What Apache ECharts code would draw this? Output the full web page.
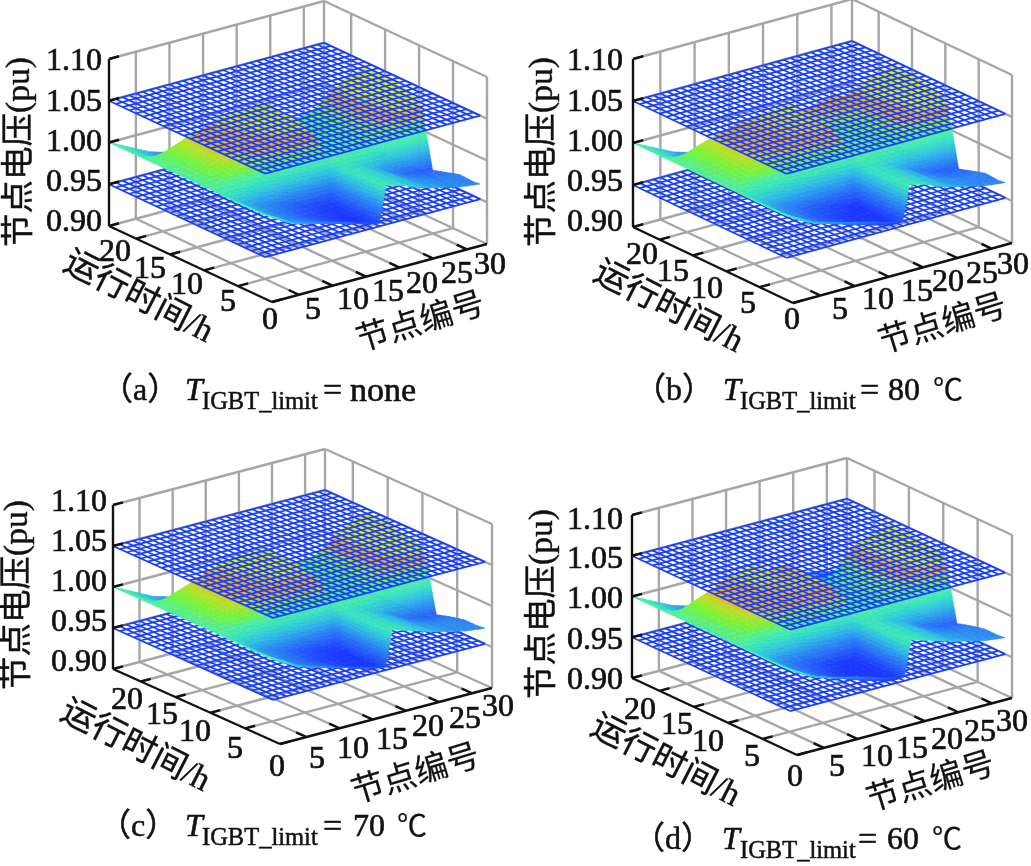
<!DOCTYPE html>
<html><head><meta charset="utf-8">
<script src="https://cdn.jsdelivr.net/npm/echarts@6/dist/echarts.min.js"></script>
<style>html,body{margin:0;padding:0;background:#fff}#c{width:1031px;height:866px}</style></head>
<body><div id="c"></div>
<script>
const nodes=[1,2,3,5,7,9,11,13,15,17,18,19,21,22,23,25,26,28,30,33];
const hours=[1,2,4,6,8,9,10,12,14,16,18,19,20,22,24];
const voltageTicks=[0.90,0.95,1.00,1.05,1.10];
const nodeTicks=[5,10,15,20,25,30];
const hourTicks=[0,5,10,15,20];
const limitLevels=[0.95,1.05];
const meshNodes=[1,2,3,4,5,6,7,8,9,10,11,12,13,14,15,16,17,18,19,20,21,22,23,24,25,26,27,28,29,30,31,32,33];
const meshHours=[1,2,3,4,5,6,7,8,9,10,11,12,13,14,15,16,17,18,19,20,21,22,23,24];

const voltageA=[
[1.000,.996,.992,.982,.977,.973,.969,.965,.960,.956,.954,.997,.992,.990,.986,.981,.979,.975,.971,.968],
[1.000,.995,.990,.980,.974,.970,.965,.961,.956,.952,.950,.996,.991,.989,.985,.980,.977,.973,.970,.967],
[1.000,.994,.988,.978,.971,.966,.961,.956,.951,.947,.946,.994,.990,.988,.985,.979,.975,.972,.969,.968],
[1.000,.994,.988,.978,.971,.966,.960,.955,.951,.948,.947,.993,.990,.988,.984,.978,.973,.968,.965,.963],
[1.000,.995,.989,.980,.973,.968,.963,.958,.954,.951,.950,.993,.990,.988,.984,.977,.972,.965,.961,.958],
[1.000,1.000,1.000,.996,.994,.992,.990,.988,.986,.985,.985,1.000,.999,.998,.997,.994,.992,.995,.998,1.002],
[1.000,1.002,1.004,1.008,1.010,1.012,1.014,1.016,1.017,1.018,1.018,1.001,1.002,1.002,1.003,1.005,1.010,1.018,1.027,1.034],
[1.000,1.003,1.006,1.013,1.018,1.021,1.024,1.026,1.027,1.028,1.028,1.002,1.002,1.003,1.003,1.006,1.012,1.022,1.030,1.040],
[1.000,1.003,1.006,1.014,1.019,1.022,1.025,1.028,1.030,1.031,1.031,1.002,1.003,1.003,1.004,1.007,1.013,1.024,1.033,1.043],
[1.000,1.003,1.006,1.013,1.019,1.023,1.026,1.029,1.031,1.033,1.033,1.002,1.003,1.003,1.004,1.007,1.013,1.025,1.035,1.044],
[1.000,1.003,1.006,1.012,1.018,1.022,1.030,1.031,1.032,1.033,1.034,1.002,1.003,1.003,1.004,1.007,1.012,1.025,1.035,1.043],
[1.000,.999,.998,.997,.993,.990,.990,.988,.986,.985,.985,.995,.994,.993,.993,.992,.990,.990,.990,.990],
[1.000,.996,.992,.985,.977,.972,.969,.966,.963,.961,.960,.992,.989,.987,.984,.980,.976,.972,.968,.965],
[1.000,.996,.991,.982,.974,.969,.966,.963,.960,.958,.957,.991,.988,.986,.983,.978,.974,.970,.966,.963],
[1.000,.996,.992,.984,.976,.971,.967,.964,.961,.959,.958,.992,.989,.987,.984,.979,.975,.971,.967,.964]];

const voltageB=[
[1.000,.996,.992,.983,.978,.974,.970,.966,.961,.957,.955,.997,.993,.990,.986,.981,.979,.975,.971,.968],
[1.000,.995,.990,.980,.974,.969,.964,.959,.954,.950,.949,.996,.991,.989,.985,.980,.977,.973,.970,.967],
[1.000,.994,.988,.977,.970,.964,.958,.953,.948,.945,.944,.994,.990,.988,.985,.979,.975,.972,.969,.968],
[1.000,.994,.988,.977,.969,.963,.957,.952,.948,.945,.945,.993,.990,.988,.984,.978,.973,.968,.965,.963],
[1.000,.995,.989,.979,.972,.966,.961,.956,.952,.949,.948,.993,.990,.988,.984,.977,.972,.965,.961,.958],
[1.000,1.000,.999,.995,.993,.990,.988,.986,.984,.983,.983,1.000,.999,.998,.997,.994,.992,.995,.998,1.002],
[1.000,1.002,1.004,1.008,1.010,1.011,1.013,1.014,1.015,1.016,1.016,1.002,1.003,1.003,1.004,1.006,1.011,1.019,1.028,1.035],
[1.000,1.003,1.006,1.013,1.017,1.020,1.022,1.024,1.025,1.026,1.026,1.004,1.005,1.005,1.006,1.009,1.014,1.023,1.031,1.040],
[1.000,1.003,1.006,1.014,1.019,1.021,1.023,1.026,1.027,1.028,1.028,1.006,1.007,1.007,1.008,1.011,1.015,1.025,1.033,1.042],
[1.000,1.003,1.006,1.013,1.018,1.021,1.024,1.026,1.028,1.028,1.029,1.014,1.016,1.017,1.018,1.020,1.019,1.027,1.035,1.043],
[1.000,1.003,1.006,1.012,1.017,1.020,1.027,1.028,1.029,1.030,1.030,1.018,1.021,1.023,1.024,1.026,1.022,1.028,1.036,1.043],
[1.000,.999,.998,.997,.993,.990,.989,.987,.985,.984,.984,.996,.995,.994,.994,.993,.991,.991,.991,.991],
[1.000,.996,.992,.985,.977,.972,.969,.966,.963,.961,.960,.992,.989,.987,.984,.980,.976,.972,.968,.965],
[1.000,.996,.991,.982,.974,.969,.966,.963,.960,.958,.957,.991,.988,.986,.983,.978,.974,.970,.966,.963],
[1.000,.996,.992,.984,.976,.971,.967,.964,.961,.959,.958,.992,.989,.987,.984,.979,.975,.971,.967,.964]];

const voltageC=[
[1.000,.996,.992,.982,.977,.973,.968,.964,.960,.956,.954,.997,.992,.990,.987,.982,.980,.976,.972,.969],
[1.000,.995,.990,.980,.974,.969,.964,.960,.955,.951,.950,.996,.991,.989,.986,.981,.978,.974,.971,.968],
[1.000,.994,.988,.977,.970,.965,.960,.955,.950,.946,.945,.994,.990,.988,.985,.980,.976,.973,.970,.968],
[1.000,.994,.988,.977,.970,.965,.959,.954,.950,.947,.946,.993,.990,.988,.984,.979,.974,.969,.966,.964],
[1.000,.995,.989,.979,.972,.967,.962,.957,.953,.950,.949,.993,.990,.988,.984,.978,.973,.966,.962,.959],
[1.000,1.000,.999,.996,.994,.991,.989,.987,.985,.984,.984,1.000,.999,.998,.997,.994,.992,.995,.998,1.002],
[1.000,1.002,1.004,1.008,1.010,1.012,1.014,1.015,1.016,1.017,1.017,1.002,1.003,1.003,1.004,1.006,1.011,1.019,1.027,1.034],
[1.000,1.003,1.006,1.013,1.018,1.021,1.024,1.026,1.027,1.027,1.027,1.003,1.003,1.004,1.004,1.007,1.012,1.022,1.030,1.039],
[1.000,1.003,1.006,1.014,1.019,1.022,1.025,1.028,1.030,1.030,1.030,1.003,1.004,1.004,1.005,1.008,1.013,1.024,1.033,1.042],
[1.000,1.003,1.006,1.013,1.019,1.023,1.027,1.030,1.032,1.032,1.032,1.004,1.005,1.005,1.006,1.009,1.014,1.025,1.035,1.044],
[1.000,1.003,1.006,1.012,1.018,1.024,1.030,1.032,1.033,1.033,1.033,1.004,1.005,1.005,1.006,1.009,1.013,1.026,1.036,1.044],
[1.000,.999,.998,.997,.993,.990,.990,.988,.986,.985,.985,.995,.994,.993,.993,.992,.990,.990,.990,.990],
[1.000,.996,.992,.985,.977,.972,.969,.966,.963,.961,.960,.992,.989,.987,.984,.980,.976,.972,.968,.965],
[1.000,.996,.991,.982,.974,.969,.966,.963,.960,.958,.957,.991,.988,.986,.983,.978,.974,.970,.966,.963],
[1.000,.996,.992,.984,.976,.971,.967,.964,.961,.959,.958,.992,.989,.987,.984,.979,.975,.971,.967,.964]];

const voltageD=[
[1.000,.996,.992,.983,.978,.974,.970,.965,.960,.956,.955,.998,.993,.991,.988,.983,.981,.977,.973,.970],
[1.000,.995,.990,.980,.974,.969,.964,.958,.953,.949,.948,.997,.992,.990,.987,.982,.979,.975,.972,.969],
[1.000,.994,.988,.977,.969,.963,.957,.951,.946,.943,.942,.995,.991,.989,.986,.981,.977,.974,.971,.969],
[1.000,.994,.988,.977,.968,.962,.956,.950,.946,.942,.941,.994,.991,.989,.985,.980,.975,.970,.967,.965],
[1.000,.995,.989,.979,.971,.965,.960,.954,.950,.946,.945,.994,.991,.989,.985,.979,.974,.967,.963,.960],
[1.000,1.000,.999,.996,.993,.990,.988,.985,.983,.981,.981,1.001,1.000,.999,.998,.995,.993,.996,.999,1.003],
[1.000,1.002,1.004,1.009,1.012,1.014,1.016,1.017,1.018,1.018,1.018,1.002,1.003,1.003,1.004,1.006,1.011,1.020,1.028,1.035],
[1.000,1.003,1.006,1.014,1.019,1.022,1.024,1.025,1.026,1.026,1.026,1.003,1.004,1.004,1.005,1.008,1.013,1.023,1.031,1.040],
[1.000,1.003,1.007,1.015,1.021,1.023,1.025,1.026,1.027,1.027,1.027,1.003,1.004,1.005,1.006,1.009,1.014,1.025,1.033,1.041],
[1.000,1.003,1.007,1.015,1.021,1.024,1.027,1.030,1.026,1.026,1.026,1.000,1.001,1.002,1.002,1.005,1.013,1.026,1.033,1.042],
[1.000,1.003,1.007,1.014,1.020,1.028,1.033,1.034,1.026,1.025,1.025,.992,.993,.994,.995,.999,1.012,1.026,1.034,1.042],
[1.000,.999,.998,.997,.993,.990,.990,.988,.986,.985,.985,.988,.987,.987,.987,.987,.987,.990,.991,.991],
[1.000,.996,.992,.985,.977,.972,.969,.966,.963,.961,.960,.985,.982,.981,.980,.977,.974,.971,.968,.965],
[1.000,.996,.991,.982,.974,.969,.966,.963,.960,.958,.957,.988,.985,.984,.982,.978,.974,.970,.966,.963],
[1.000,.996,.992,.984,.976,.971,.967,.964,.961,.959,.958,.990,.988,.986,.984,.979,.975,.971,.967,.964]];

const colorStops=[[.948,[28,56,255]],[.96,[40,96,248]],[.972,[44,144,242]],[.982,[48,192,228]],[.992,[58,228,192]],[1.000,[80,240,160]],[1.008,[120,245,60]],[1.015,[190,225,40]],[1.019,[245,170,40]],[1.024,[245,172,36]],[1.029,[228,236,24]]];

const panels=[
{key:'a',box:[0,0,516,433],F:[272,302],nv:[215,-58],hv:[-163,-76],vs:167,grid:voltageA,
 vl:[102,[220,180,140,100,59]],hl:[[270,318],[228,300],[187,283],[150,267],[115,250]],nl:[[313,308],[353,298],[388,290],[422,282],[457,272],[490,263]],
 yn:[20,150],hn:[138,298],nn:[420,320],cap:{y:389,paren:[103,'（a）'],T:185,sub:202,eq:323,val:[350,'none'],unit:null}},
{key:'b',box:[516,0,515,433],F:[793,303],nv:[219,-60],hv:[-160,-76],vs:168,grid:voltageB,
 vl:[623,[220,180,140,100,59]],hl:[[792,318],[748,302],[707,287],[673,270],[642,253]],nl:[[840,308],[878,298],[917,290],[948,280],[982,272],[1013,263]],
 yn:[543,150],hn:[668,308],nn:[942,322],cap:{y:389,paren:[636,'（b）'],T:723,sub:740,eq:860,val:[888,'80'],unit:933}},
{key:'c',box:[0,433,516,433],F:[280,744],nv:[212,-56],hv:[-167,-75],vs:164,grid:voltageC,
 vl:[107,[660,620,580,540,500]],hl:[[277,765],[235,747],[195,730],[162,713],[127,698]],nl:[[317,757],[353,747],[392,738],[428,725],[465,717],[498,705]],
 yn:[18,593],hn:[135,747],nn:[415,772],cap:{y:825,paren:[101,'（c）'],T:185,sub:202,eq:323,val:[353,'70'],unit:397}},
{key:'d',box:[516,433,515,433],F:[797,755],nv:[215,-57],hv:[-165,-77],vs:163,grid:voltageD,
 vl:[623,[678,638,597,557,518]],hl:[[795,775],[752,755],[708,740],[677,723],[640,708]],nl:[[837,765],[877,755],[912,747],[947,738],[980,730],[1012,720]],
 yn:[543,602],hn:[665,762],nn:[930,780],cap:{y:838,paren:[635,'（d）'],T:722,sub:740,eq:858,val:[887,'60'],unit:932}}
];

const nMin=1,nMax=33,hMin=0,hMax=24,vMin=.9,vMax=1.1;
const GRAY='#a6a6a6',MESH='#1a40f8',SERIF='"Liberation Serif","Noto Sans CJK SC",serif',CJK='"Noto Sans CJK SC",sans-serif';
function proj(P,n,h,v){
  const t=(n-nMin)/(nMax-nMin),u=(h-hMin)/(hMax-hMin);
  return [P.F[0]+t*P.nv[0]+u*P.hv[0], P.F[1]+t*P.nv[1]+u*P.hv[1]-(v-vMin)/(vMax-vMin)*P.vs];
}
function colorOf(v){
  const s=colorStops;
  if(v<=s[0][0])return `rgb(${s[0][1]})`;
  for(let i=1;i<s.length;i++){ if(v<=s[i][0]){
    const f=(v-s[i-1][0])/(s[i][0]-s[i-1][0]),a=s[i-1][1],b=s[i][1];
    return `rgb(${a.map((c,k)=>Math.round(c+(b[k]-c)*f))})`; } }
  return `rgb(${s[s.length-1][1]})`;
}
function segSeries(P,idx,segs,color,width,z){
  return {type:'custom',coordinateSystem:'cartesian2d',xAxisIndex:idx,yAxisIndex:idx,silent:true,animation:false,clip:false,z,progressive:0,
    data:segs.map((s,i)=>[i]),
    renderItem(params,api){
      const s=segs[params.dataIndex];
      const a=api.coord(proj(P,s[0],s[1],s[2])),b=api.coord(proj(P,s[3],s[4],s[5]));
      return {type:'line',shape:{x1:a[0],y1:a[1],x2:b[0],y2:b[1]},style:{stroke:color,lineWidth:width}};
    }};
}
function surfaceSeries(P,idx){
  const cells=[];
  for(let r=hours.length-2;r>=0;r--)for(let c=nodes.length-2;c>=0;c--)cells.push([r,c]);
  const g=P.grid,STEP=.004;
  return {type:'custom',coordinateSystem:'cartesian2d',xAxisIndex:idx,yAxisIndex:idx,silent:true,animation:false,clip:false,z:4,progressive:0,
    data:cells.map(c=>[c[0],c[1]]),
    renderItem(params,api){
      const [r,c]=cells[params.dataIndex];
      const v00=g[r][c],v01=g[r][c+1],v10=g[r+1][c],v11=g[r+1][c+1];
      const subH=Math.min(12,Math.max(3,Math.ceil(Math.max(Math.abs(v10-v00),Math.abs(v11-v01))/STEP)));
      const subN=Math.min(12,Math.max(3,Math.ceil(Math.max(Math.abs(v01-v00),Math.abs(v11-v10))/STEP)));
      const children=[];
      for(let i=subH-1;i>=0;i--)for(let j=subN-1;j>=0;j--){
        const pt=(a,b)=>{
          const aa=a/subH,bb=b/subN;
          const v=v00*(1-aa)*(1-bb)+v01*(1-aa)*bb+v10*aa*(1-bb)+v11*aa*bb;
          const h=hours[r]+(hours[r+1]-hours[r])*aa,n=nodes[c]+(nodes[c+1]-nodes[c])*bb;
          return {p:api.coord(proj(P,n,h,v)),v};
        };
        const q=[pt(i,j),pt(i,j+1),pt(i+1,j+1),pt(i+1,j)];
        const fill=colorOf((q[0].v+q[1].v+q[2].v+q[3].v)/4);
        children.push({type:'polygon',shape:{points:q.map(o=>o.p)},style:{fill,stroke:fill,lineWidth:.5}});
      }
      return {type:'group',children};
    }};
}
function textSeries(P,idx){
  const items=[];
  const add=(t,x,y,font,align,rot,sw)=>items.push({t,x,y,font,align:align||'center',rot:rot||0,sw:sw||0});
  const num='32px '+SERIF;
  voltageTicks.forEach((v,i)=>add(v.toFixed(2),P.vl[0],P.vl[1][i]+2.5,num,'right',0,.7));
  hourTicks.forEach((v,i)=>add(String(v),P.hl[i][0],P.hl[i][1]+2.5,num,'center',0,.7));
  nodeTicks.forEach((v,i)=>add(String(v),P.nl[i][0],P.nl[i][1]+2.5,num,'center',0,.7));
  add('节点电压(pu)',P.yn[0],P.yn[1]+2,'33.5px '+SERIF,'center',Math.PI/2,.4);
  add('运行时间/h',P.hn[0],P.hn[1],'34px '+SERIF,'center',-27*Math.PI/180,.4);
  add('节点编号',P.nn[0],P.nn[1],'33px '+CJK,'center',17*Math.PI/180,.2);
  const c=P.cap,cy=c.y+3;
  add(c.paren[1],c.paren[0]-2,cy,'32px '+SERIF,'left',0,.5);
  add('T',c.T,cy,'italic 32px '+SERIF,'left',0,.6);
  add('IGBT_limit',c.sub,cy+11,'24.5px '+SERIF,'left',0,.5);
  add('=',c.eq,cy,'34px '+SERIF,'left',0,.5);
  add(c.val[1],c.val[0],cy,(c.val[1]==='none'?'34px ':'32px ')+SERIF,'left',0,.6);
  if(c.unit)add('℃',c.unit,cy,'30px '+SERIF,'left',0,.2);
  return {type:'custom',coordinateSystem:'cartesian2d',xAxisIndex:idx,yAxisIndex:idx,silent:true,animation:false,clip:false,z:8,progressive:0,
    data:items.map((s,i)=>[i]),
    renderItem(params,api){
      const s=items[params.dataIndex],p=api.coord([s.x,s.y]);
      return {type:'text',x:p[0],y:p[1],rotation:s.rot,style:{text:s.t,font:s.font,fill:'#111',stroke:s.sw?'#111':'none',lineWidth:s.sw,align:s.align,verticalAlign:'middle'}};
    }};
}
const grids=[],xAxes=[],yAxes=[],series=[];
panels.forEach((P,idx)=>{
  const [x,y,w,h]=P.box;
  grids.push({left:x,top:y,width:w,height:h,containLabel:false});
  xAxes.push({type:'value',gridIndex:idx,min:x,max:x+w,show:false});
  yAxes.push({type:'value',gridIndex:idx,min:y,max:y+h,inverse:true,show:false});
  const gray=[];
  nodeTicks.forEach(n=>{gray.push([n,hMin,vMin,n,hMax,vMin]);gray.push([n,hMax,vMin,n,hMax,vMax]);});
  hourTicks.forEach(t=>{ if(t>hMin){gray.push([nMin,t,vMin,nMax,t,vMin]);gray.push([nMax,t,vMin,nMax,t,vMax]);} });
  voltageTicks.forEach(v=>{gray.push([nMin,hMax,v,nMax,hMax,v]);gray.push([nMax,hMax,v,nMax,hMin,v]);});
  gray.push([nMax,hMax,vMin,nMax,hMax,vMax],[nMax,hMin,vMin,nMax,hMin,vMax]);
  series.push(segSeries(P,idx,gray,GRAY,2.4,1));
  const mesh=level=>{
    const out=[];
    meshNodes.forEach(n=>out.push([n,meshHours[0],level,n,meshHours[meshHours.length-1],level]));
    meshHours.forEach(t=>out.push([meshNodes[0],t,level,meshNodes[meshNodes.length-1],t,level]));
    return out;
  };
  series.push(segSeries(P,idx,mesh(limitLevels[0]),MESH,1.75,2));
  series.push(surfaceSeries(P,idx));
  series.push(segSeries(P,idx,mesh(limitLevels[1]),MESH,1.75,5));
  const black=[[nMin,hMax,vMin,nMin,hMax,vMax],[nMin,hMax,vMin,nMin,hMin,vMin],[nMin,hMin,vMin,nMax,hMin,vMin]];
  voltageTicks.forEach(v=>black.push([nMin,hMax,v,nMin+1.5,hMax,v]));
  nodeTicks.forEach(n=>black.push([n,hMin,vMin,n,hMin+1.5,vMin]));
  hourTicks.forEach(t=>black.push([nMin,t,vMin,nMin+1.5,t,vMin]));
  series.push(segSeries(P,idx,black,'#111',2.4,6));
  series.push(textSeries(P,idx));
});
const chart=echarts.init(document.getElementById('c'),null,{renderer:'canvas'});
chart.setOption({animation:false,backgroundColor:'#fff',grid:grids,xAxis:xAxes,yAxis:yAxes,series});
</script></body></html>
